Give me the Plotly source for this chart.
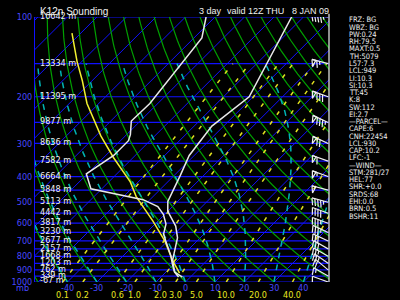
import numpy as np
import plotly.graph_objects as go

# ---------------- data ----------------
temp_p = [100, 150, 200, 258, 300, 333, 395, 456, 497, 541, 615, 681, 761, 829, 918, 958]
temp_c = [-54.0, -46.5, -41.3, -44.0, -42.7, -41.7, -38.0, -35.0, -33.3, -30.0, -22.3, -17.7, -14.3, -11.7, -7.0, -2.7]

dew_p = [100, 120, 212, 247, 278, 293, 333, 391, 445, 489, 519, 555, 604, 659, 699, 794, 865, 918, 958]
dew_c = [-83.0, -77.3, -72.7, -73.0, -68.7, -67.3, -67.3, -70.3, -63.7, -42.3, -35.0, -30.5, -26.3, -23.7, -20.7, -14.0, -10.0, -7.0, -4.0]

parcel_p = [115, 147, 174, 212, 281, 339, 419, 476, 589, 699, 829, 926]
parcel_c = [-123.0, -111.7, -103.3, -94.0, -78.3, -66.7, -52.7, -45.7, -31.7, -21.0, -11.7, -5.0]

wind_p = [100, 150, 200, 250, 300, 350, 400, 450, 500, 550, 600, 650, 700, 750, 800, 850, 900, 950, 1000]
wind_dir = [280, 285, 290, 295, 295, 290, 290, 285, 285, 290, 290, 295, 295, 300, 300, 305, 310, 300, 290]
wind_kt = [45, 65, 80, 85, 70, 60, 55, 50, 45, 40, 35, 35, 30, 30, 25, 25, 20, 15, 10]

height_p = [100, 150, 200, 250, 300, 350, 400, 450, 500, 550, 600, 650, 700, 750, 800, 850, 900, 950, 1000]
height_m = ["16642", "13334", "11395", "9877", "8636", "7582", "6664", "5848", "5113", "4442",
            "3817", "3230", "2677", "2157", "1668", "1203", "762", "339", "-67"]

pressure_ticks = [100, 200, 300, 400, 500, 600, 700, 800, 900, 1000]
grid_pressures = [100, 150, 200, 250, 300, 350, 400, 450, 500, 550, 600, 650, 700, 750, 800, 850, 900, 950, 1000]
temp_ticks = [-50, -40, -30, -20, -10, 0, 10, 20, 30, 40]
isotherm_vals = list(range(-150, 60, 10))
dry_adiabat_vals = list(range(-50, 180, 10))
moist_adiabat_vals = [-40, -30, -20, -10, 0, 10, 20, 30, 40]
mixing_vals = [0.1, 0.2, 0.6, 1.0, 2.0, 3.0, 5.0, 10.0, 20.0, 40.0]
mixing_text = ["0.1", "0.2", "0.6", "1.0", "2.0", "3.0", "5.0", "10.0", "20.0", "40.0"]

stats = ["FRZ: BG", "WBZ: BG", "PW:0.24", "RH:79.5", "MAXT:0.5", "TH:5079", "L57:7.3", "LCL:949",
         "LI:10.3", "SI:10.3", "TT:45", "K:8", "SW:112", "EI:2.7", "\u2014PARCEL\u2014", "CAPE:6",
         "CNH:22454", "LCL:930", "CAP:10.2", "LFC:-1", "\u2014WIND\u2014", "STM:281/27", "HEL:77",
         "SHR:+0.0", "SRDS:68", "EHI:0.0", "BRN:0.5", "BSHR:11"]

title_left = "K12n Sounding"
title_parts = ["3 day", "valid 12Z THU", "8 JAN 09"]

# ---------------- skew-T helpers ----------------
SKEW = 90.0
XMIN, XMAX = -51.0, 48.67


def skx(T, p):
    return np.asarray(T, float) + SKEW * np.log10(1000.0 / np.asarray(p, float))


def td_from_w(w, p):
    e = w * p / (622.0 + w)
    a = np.log(e / 6.112)
    return 243.5 * a / (17.67 - a)


def moist(T0, ps):
    Rd, Cp, Lv, eps = 287.04, 1005.7, 2.501e6, 0.622
    T = T0 + 273.15
    out = [T]
    for i in range(1, len(ps)):
        p = ps[i - 1]
        dp = ps[i] - p
        es = 6.112 * np.exp(17.67 * (T - 273.15) / (T - 29.65))
        rs = eps * es / (p - es)
        dTdp = (Rd * T + Lv * rs) / ((Cp + Lv * Lv * rs * eps / (Rd * T * T)) * p)
        T = T + dTdp * dp
        out.append(T)
    return np.array(out) - 273.15


fig = go.Figure()


def add_multi(xs_list, ps_list, color, width=1.0, dash=None):
    X, Y = [], []
    for xs, ps in zip(xs_list, ps_list):
        X += list(xs) + [None]
        Y += list(ps) + [None]
    fig.add_trace(go.Scatter(x=X, y=Y, mode="lines", line=dict(color=color, width=width, dash=dash),
                             hoverinfo="skip", showlegend=False))


BLUE = "#1010ff"
# horizontal pressure lines
add_multi([[XMIN, XMAX] for _ in grid_pressures], [[p, p] for p in grid_pressures], BLUE, 1.2)
# isotherms
add_multi([skx([T, T], [1000, 100]) for T in isotherm_vals], [[1000, 100] for _ in isotherm_vals], BLUE, 1)
# dry adiabats
pg = np.logspace(3, 2, 80)
add_multi([skx((th + 273.15) * (pg / 1000.0) ** 0.2857 - 273.15, pg) for th in dry_adiabat_vals],
          [pg for _ in dry_adiabat_vals], "#00a000", 1.2)
# moist adiabats
pm = np.linspace(1000, 150, 171)
add_multi([skx(moist(T0, pm), pm) for T0 in moist_adiabat_vals], [pm for _ in moist_adiabat_vals],
          "#00b4b4", 1.5, "6px,6px")
# mixing ratio lines
pw = np.linspace(1000, 150, 60)
add_multi([skx(td_from_w(w, pw), pw) for w in mixing_vals], [pw for _ in mixing_vals],
          "#e0e020", 1.5, "4px,8px")

# data lines
fig.add_trace(go.Scatter(x=skx(parcel_c, parcel_p), y=parcel_p, mode="lines",
                         line=dict(color="#f0f030", width=1.5), hoverinfo="skip", showlegend=False))
fig.add_trace(go.Scatter(x=skx(dew_c, dew_p), y=dew_p, mode="lines",
                         line=dict(color="#e8e8e8", width=1.5), hoverinfo="skip", showlegend=False))
fig.add_trace(go.Scatter(x=skx(temp_c, temp_p), y=temp_p, mode="lines",
                         line=dict(color="#e8e8e8", width=1.5), hoverinfo="skip", showlegend=False))

# wind barbs (pixel offsets -> data coords via the axis scales)
PX_PER_X = 3.0
PX_PER_DEC = 270.0
X_ANCHOR = XMAX - 0.3


def barb_paths(p0, d, spd):
    r = np.deg2rad(d)
    u = np.array([np.sin(r), np.cos(r)])
    perp = np.array([-u[1], u[0]])
    L, fl, sp = 17.0, 7.0, 3.0
    paths = [[np.zeros(2), u * L]]
    pos = L
    n50 = spd // 50
    rem = spd % 50
    n10 = rem // 10
    n5 = 1 if rem % 10 >= 5 else 0
    for _ in range(n50):
        a = u * pos
        b = u * (pos - 4)
        tip = a + perp * fl - u * 2.5
        paths.append([a, tip, b, a])
        pos -= 5
    for _ in range(n10):
        a = u * pos
        paths.append([a, a + perp * fl - u * 2.5])
        pos -= sp
    if n5:
        if pos == L:
            pos -= sp
        a = u * pos
        paths.append([a, a + (perp * fl - u * 2.5) * 0.5])
    xs, ps = [], []
    for path in paths:
        xs.append([X_ANCHOR + q[0] / PX_PER_X for q in path])
        ps.append([p0 * 10 ** (-q[1] / PX_PER_DEC) for q in path])
    return xs, ps


BX, BP = [], []
for p0, d, s in zip(wind_p, wind_dir, wind_kt):
    xs, ps = barb_paths(p0, d, s)
    BX += xs
    BP += ps
add_multi(BX, BP, "#f0f0f0", 1.2)

# ---------------- annotations ----------------
ann = []
NARROW = "Liberation Sans Narrow, Arial Narrow, DejaVu Sans Condensed, Liberation Sans, Arial"
SANS = "Liberation Sans, Arial, sans-serif"

ann.append(dict(text=title_left, xref="paper", yref="paper", x=0, y=1, xshift=3, yshift=6,
                xanchor="left", yanchor="middle", showarrow=False, font=dict(family=SANS, size=10, color="#f0f0f0")))
for txt, xp in zip(title_parts, [195, 223, 289]):
    ann.append(dict(text=txt, xref="paper", yref="paper", x=(xp - 30) / 299.0, y=1, yshift=6,
                    xanchor="left", yanchor="middle", showarrow=False,
                    font=dict(family=SANS, size=9, color="#f0f0f0")))

for p, h in zip(height_p, height_m):
    ann.append(dict(text=h + " m", xref="paper", yref="y", x=0, y=np.log10(p), xshift=3,
                    yshift=(1 if p < 1000 else 2), xanchor="left", yanchor="middle", showarrow=False,
                    font=dict(family=NARROW, size=9, color="#f0f0f0")))

for T in temp_ticks:
    ann.append(dict(text=str(T), xref="x", yref="paper", x=(T if T > -50 else -51.3), y=0, yshift=1,
                    xanchor="center", yanchor="top", showarrow=False,
                    font=dict(family=NARROW, size=9, color="#4848ff")))
ann.append(dict(text="C", xref="x", yref="paper", x=49.0, y=0, yshift=1, xanchor="center", yanchor="top",
                showarrow=False, font=dict(family=NARROW, size=9, color="#4848ff")))
ann.append(dict(text="mb", xref="paper", yref="paper", x=0, y=0, xshift=-4, yshift=1, xanchor="right",
                yanchor="top", showarrow=False, font=dict(family=NARROW, size=9, color="#4848ff")))

for w, t in zip(mixing_vals, mixing_text):
    ann.append(dict(text=t, xref="x", yref="paper", x=float(td_from_w(w, 1000.0)), y=0, yshift=-6,
                    xanchor="center", yanchor="top", showarrow=False,
                    font=dict(family=NARROW, size=9, color="#e8e820")))
ann.append(dict(text="g/kg", xref="x", yref="paper", x=49.0, y=0, yshift=-6, xanchor="center", yanchor="top",
                showarrow=False, font=dict(family=NARROW, size=9, color="#e8e820")))

for i, s in enumerate(stats):
    ypix = 15 + i * 7.4
    ann.append(dict(text=s, xref="paper", yref="paper", x=1 + (347 - 329) / 299.0, y=(282 - ypix) / 270.0,
                    xanchor="left", yanchor="middle", showarrow=False,
                    font=dict(family=NARROW, size=7.5, color="#f0f0f0")))

# right wind axis with ticks
shapes = [dict(type="line", xref="paper", yref="paper", x0=1, x1=1, y0=0, y1=1.012,
               line=dict(color="#f0f0f0", width=1.2))]
for p in wind_p:
    half = 5 if p <= 300 else 4
    shapes.append(dict(type="line", xref="paper", yref="y", x0=1 - half / 299.0, x1=1 + half / 299.0,
                       y0=np.log10(p), y1=np.log10(p), line=dict(color="#f0f0f0", width=1.2)))

fig.update_layout(
    width=400, height=300,
    margin=dict(l=30, r=71, t=12, b=18),
    paper_bgcolor="black", plot_bgcolor="black",
    showlegend=False,
    annotations=ann, shapes=shapes,
    xaxis=dict(range=[XMIN, XMAX], showgrid=False, zeroline=False, showticklabels=False, ticks="",
               showline=False, fixedrange=True),
    yaxis=dict(type="log", range=[3, 2], showgrid=False, zeroline=False, tickvals=pressure_ticks,
               ticktext=[str(v) for v in pressure_ticks], ticks="", showline=True, linecolor=BLUE, linewidth=1,
               tickfont=dict(family=NARROW, size=9, color="#4848ff"), fixedrange=True),
)

fig.write_html("out.html")
